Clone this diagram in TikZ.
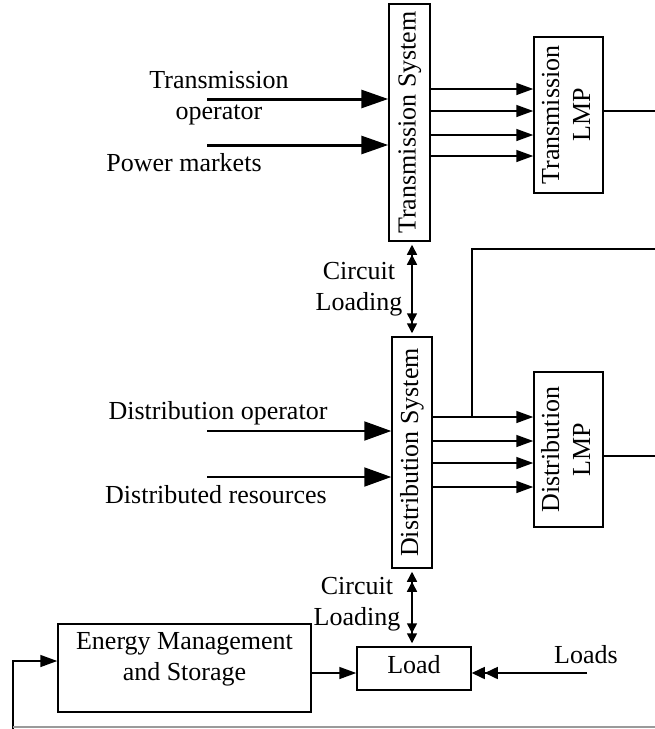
\documentclass[tikz,border=0pt]{standalone}
\usepackage{fontspec}
\setmainfont{Liberation Serif}
\usetikzlibrary{arrows.meta}
\definecolor{ink}{HTML}{000000}
\definecolor{rule}{HTML}{9A9A9A}
\newcommand{\figfontsize}{\fontsize{26}{31}\selectfont}
\newcommand{\upright}[1]{\rotatebox{90}{\begin{tabular}{@{}c@{}}#1\end{tabular}}}
\tikzset{
  every picture/.style = {font=\figfontsize, line join=miter},
  box/.style      = {draw=ink, line width=1.5pt, inner sep=0pt},
  wire/.style     = {draw=ink, line width=1.5pt},
  heavy/.style    = {draw=ink, line width=3pt, -{Triangle[length=27pt, width=18pt]}},
  medium/.style   = {draw=ink, line width=2pt, -{Triangle[length=27pt, width=19pt]}},
  tap/.style      = {wire, -{Triangle[length=17pt, width=12pt]}},
  loadtip/.style  = {wire, -{Triangle[length=13pt, width=12pt] Triangle[length=13pt, width=12pt]}},
  both/.style     = {wire, {Triangle[length=10pt, width=10pt, sep=3pt] Triangle[length=10pt, width=10pt]}-{Triangle[length=10pt, width=10pt] Triangle[length=10pt, width=10pt, sep=3pt]}},
  tag/.style      = {inner sep=0pt, align=center},
}

\begin{document}
\begin{tikzpicture}[x=1pt, y=-1pt]
  \useasboundingbox (0,0) rectangle (655,729);

  % ---------- boxes -----------------------------------------------------------
  \node[box, minimum width=41, minimum height=237] (ts)   at (409.5,122.5) {\upright{Transmission System}};
  \node[box, minimum width=69, minimum height=156] (tlmp) at (568.5,115)   {\upright{Transmission\\LMP}};
  \node[box, minimum width=40, minimum height=231] (ds)   at (412,452.5)   {\upright{Distribution System}};
  \node[box, minimum width=69, minimum height=155] (dlmp) at (568.5,449.5) {\upright{Distribution\\LMP}};
  \node[box, minimum width=253, minimum height=88] (ems)  at (184.5,668)   {};
  \node[box, minimum width=114, minimum height=43] (load) at (414,668.5)   {};

  \node[tag] (emstxt)  at (184.5,659) {Energy Management\\and Storage};
  \node[tag] (loadtxt) at (414,665)   {Load};

  % ---------- free ends -------------------------------------------------------
  \coordinate (top1) at (207,99);
  \coordinate (top2) at (207,145);
  \coordinate (mid1) at (207,431);
  \coordinate (mid2) at (207,477);
  \coordinate (lds)  at (587,673);
  \coordinate (tout) at (655,111);
  \coordinate (dout) at (655,456);
  \coordinate (jn)   at (472,417);
  \coordinate (jout) at (655,249);
  \coordinate (fb)   at (13,729);
  \coordinate (gl)   at (13,727);
  \coordinate (gr)   at (655,727);

  % ---------- inputs ----------------------------------------------------------
  \draw[heavy]  (top1) -- (ts.west |- top1);
  \draw[heavy]  (top2) -- (ts.west |- top2);
  \draw[medium] (mid1) -- (ds.west |- mid1);
  \draw[medium] (mid2) -- (ds.west |- mid2);

  \node[tag] (optx) at (219,98)  {Transmission\\operator};
  \node[tag] (pmkt) at (184,163) {Power markets};
  \node[tag] (dopr) at (218,413) {Distribution operator};
  \node[tag] (dres) at (216,495) {Distributed resources};

  % ---------- system to LMP ---------------------------------------------------
  \foreach \y in {89,111,135,156}
    \draw[tap] (ts.east |- 0,\y) -- (tlmp.west |- 0,\y);
  \foreach \y in {417,441,463,487}
    \draw[tap] (ds.east |- 0,\y) -- (dlmp.west |- 0,\y);

  \draw[wire] (tlmp.east |- tout) -- (tout);
  \draw[wire] (dlmp.east |- dout) -- (dout);
  \draw[wire] (jn) |- (jout);

  % ---------- circuit loading -------------------------------------------------
  \draw[both] (ds.north |- ts.south) -- (ds.north);
  \draw[both] (ds.south) -- (ds.south |- load.north);
  \node[tag] (cl1) at (359,289) {Circuit\\Loading};
  \node[tag] (cl2) at (357,604) {Circuit\\Loading};

  % ---------- bottom row ------------------------------------------------------
  \draw[tap] (ems.east |- lds) -- (load.west |- lds);
  \draw[loadtip] (lds) -- (load.east |- lds);
  \node[tag] (ldtx) at (586,655) {Loads};

  \draw[tap] (fb) |- (ems.west |- 0,661);
  \draw[line width=1.2pt, rule] (gl) -- (gr);
\end{tikzpicture}
\end{document}
